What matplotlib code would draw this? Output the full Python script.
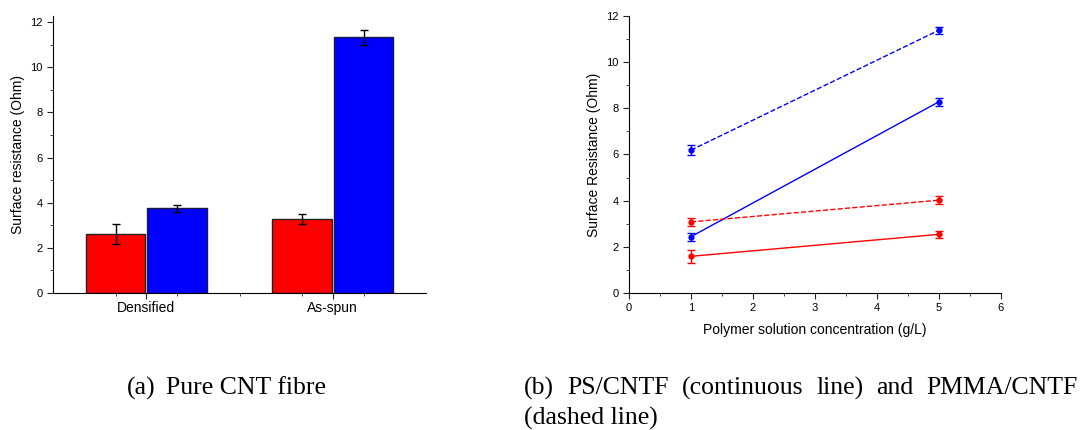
import numpy as np
import matplotlib.pyplot as plt
from matplotlib.ticker import MultipleLocator, FixedLocator

plt.rcParams['font.family'] = ['Liberation Sans', 'DejaVu Sans']

# (a) pure CNT fibre
categorias = ['Densified', 'As-spun']
barra_vermelha = [2.62, 3.28]
erro_vermelha = [0.43, 0.22]
barra_azul = [3.75, 11.33]
erro_azul = [0.15, 0.33]

# (b) polymer coated fibres
conc = [1, 5]
ps_vermelho = [1.59, 2.54]
ps_vermelho_err = [0.29, 0.15]
ps_azul = [2.44, 8.28]
ps_azul_err = [0.17, 0.17]
pmma_vermelho = [3.08, 4.02]
pmma_vermelho_err = [0.17, 0.18]
pmma_azul = [6.19, 11.38]
pmma_azul_err = [0.20, 0.15]

fig = plt.figure(figsize=(10.87, 4.30), dpi=100)

def estilo(ax):
    ax.spines['top'].set_visible(False)
    ax.spines['right'].set_visible(False)
    ax.tick_params(which='both', direction='out', labelsize=8, color='#222222')
    ax.tick_params(which='major', length=4)
    ax.tick_params(which='minor', length=2.5)

# grafico (a)
ax1 = fig.add_axes([0.0488, 0.3186, 0.3431, 0.6442])
x = np.arange(len(categorias))
w = 0.32
ax1.bar(x - 0.165, barra_vermelha, w, color='#ff0000', edgecolor='#222222', linewidth=1,
        yerr=erro_vermelha, error_kw=dict(ecolor='black', capsize=3, elinewidth=1, capthick=1))
ax1.bar(x + 0.165, barra_azul, w, color='#0000ff', edgecolor='#1a1a40', linewidth=1,
        yerr=erro_azul, error_kw=dict(ecolor='black', capsize=3, elinewidth=1, capthick=1))
ax1.set_xlim(-0.5, 1.5)
ax1.set_ylim(0, 12.27)
ax1.set_xticks(x)
ax1.set_xticklabels(categorias)
ax1.xaxis.set_minor_locator(FixedLocator([-0.165, 0.165, 0.5, 0.835, 1.165]))
ax1.set_yticks([0, 2, 4, 6, 8, 10, 12])
ax1.yaxis.set_minor_locator(MultipleLocator(1))
ax1.set_ylabel('Surface resistance (Ohm)', fontsize=10)
estilo(ax1)
ax1.tick_params(axis='x', which='major', labelsize=10, pad=2)

# grafico (b)
ax2 = fig.add_axes([0.5787, 0.3186, 0.3419, 0.6442])
kw = dict(marker='o', markersize=3.5, capsize=3, elinewidth=1, capthick=1, linewidth=1)
ax2.errorbar(conc, pmma_azul, yerr=pmma_azul_err, color='#0000ff', linestyle='--', **kw)
ax2.errorbar(conc, ps_azul, yerr=ps_azul_err, color='#0000ff', linestyle='-', **kw)
ax2.errorbar(conc, pmma_vermelho, yerr=pmma_vermelho_err, color='#ff0000', linestyle='--', **kw)
ax2.errorbar(conc, ps_vermelho, yerr=ps_vermelho_err, color='#ff0000', linestyle='-', **kw)
ax2.set_xlim(0, 6)
ax2.set_ylim(0, 12)
ax2.set_xticks(range(0, 7))
ax2.xaxis.set_minor_locator(MultipleLocator(0.5))
ax2.set_yticks([0, 2, 4, 6, 8, 10, 12])
ax2.yaxis.set_minor_locator(MultipleLocator(1))
ax2.set_xlabel('Polymer solution concentration (g/L)', fontsize=10, labelpad=7)
ax2.set_ylabel('Surface Resistance (Ohm)', fontsize=10)
estilo(ax2)

# legendas das figuras
serif = dict(fontsize=18.5, family='Liberation Serif', va='center')
W = 1087.0
fig.text(127 / W, 1 - 388 / 430, '(a)', **serif)
fig.text(166 / W, 1 - 388 / 430, 'Pure CNT fibre', **serif)

# linha justificada entre 524 e 1078 px
palavras_b = ['(b)', 'PS/CNTF', '(continuous', 'line)', 'and', 'PMMA/CNTF']
textos = [fig.text(0, 1 - 388 / 430, p, **serif) for p in palavras_b]
fig.canvas.draw()
r = fig.canvas.get_renderer()
larguras = [t.get_window_extent(r).width for t in textos]
espaco = (1078 - 524 - sum(larguras)) / (len(textos) - 1)
xp = 524
for t, lw in zip(textos, larguras):
    t.set_x(xp / W)
    xp += lw + espaco
fig.text(524 / W, 1 - 418 / 430, '(dashed line)', **serif)

plt.savefig('out.png', dpi=100)
